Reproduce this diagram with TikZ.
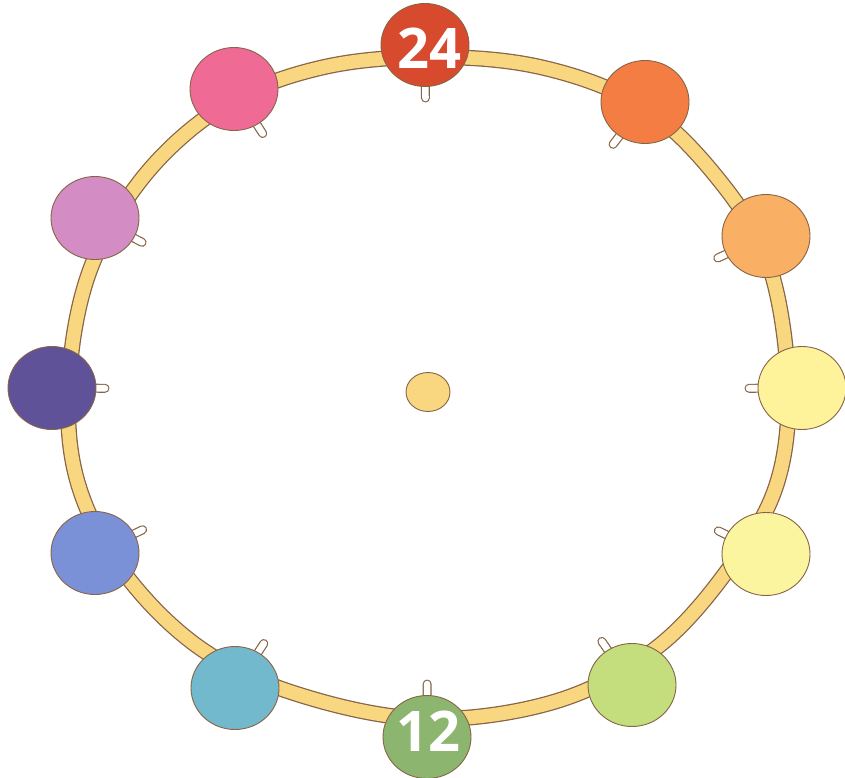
\documentclass[tikz,border=0pt]{standalone}
\usepackage{fontspec}
\newfontfamily\numfont{Open Sans}
\usetikzlibrary{calc,shapes.geometric}
\definecolor{ringfill}{RGB}{249,214,128}
\definecolor{edge}{RGB}{135,100,70}
\definecolor{cA}{RGB}{216,74,46}
\definecolor{cB}{RGB}{244,125,68}
\definecolor{cC}{RGB}{249,175,100}
\definecolor{cD}{RGB}{254,242,155}
\definecolor{cE}{RGB}{252,245,160}
\definecolor{cF}{RGB}{196,222,125}
\definecolor{cG}{RGB}{140,182,112}
\definecolor{cH}{RGB}{115,185,205}
\definecolor{cI}{RGB}{122,145,215}
\definecolor{cJ}{RGB}{95,82,152}
\definecolor{cK}{RGB}{212,140,196}
\definecolor{cL}{RGB}{240,106,150}
\begin{document}
\begin{tikzpicture}[x=1pt,y=-1pt,
  ball/.style={ellipse, draw=edge, line width=0.9pt, minimum width=88pt, minimum height=83pt, inner sep=0pt},
  numtxt/.style={font=\numfont\bfseries\fontsize{56}{56}\selectfont, text=white, inner sep=0pt},
  tab/.style={draw=edge, line width=9pt, line cap=round, postaction={draw=white, line width=6.6pt, line cap=round}},
  band/.style={draw=ringfill, line width=13.5pt, preaction={draw=edge, line width=16pt}}
]
\useasboundingbox (0,0) rectangle (845,778);
\fill[white] (0,0) rectangle (845,778);
\coordinate (ctr) at (428,390);
% ring
\path[band] plot[smooth cycle, tension=0.6] coordinates {
 (428,57) (540,67) (640,105) (715,175) (768,262) (788,380) (778,480)
 (735,560) (660,645) (560,700) (428,719) (300,695) (200,648) (122,570)
 (77,480) (69,380) (90,270) (145,175) (225,105) (320,68)};
% hub
\node[ellipse, draw=edge, line width=0.9pt, fill=ringfill, minimum width=44pt, minimum height=39pt] (hub) at (428,392) {};
% circle centres
\coordinate (pA) at (425,45);
\coordinate (pB) at (645,102);
\coordinate (pC) at (766,236);
\coordinate (pD) at (802,388);
\coordinate (pE) at (766,554);
\coordinate (pF) at (632,685);
\coordinate (pG) at (427,737);
\coordinate (pH) at (235,688);
\coordinate (pI) at (95,553);
\coordinate (pJ) at (52,388);
\coordinate (pK) at (95,218);
\coordinate (pL) at (234,89);
% tabs
\foreach \p in {A,B,C,D,E,F,G,H,I,J,K,L}{
  \draw[tab] ($(p\p)!30pt!(ctr)$) -- ($(p\p)!53pt!(ctr)$);
}
% circles
\node[ball, fill=cA] (nA) at (pA) {};
\node[ball, fill=cB] (nB) at (pB) {};
\node[ball, fill=cC] (nC) at (pC) {};
\node[ball, fill=cD] (nD) at (pD) {};
\node[ball, fill=cE] (nE) at (pE) {};
\node[ball, fill=cF] (nF) at (pF) {};
\node[ball, fill=cG] (nG) at (pG) {};
\node[ball, fill=cH] (nH) at (pH) {};
\node[ball, fill=cI] (nI) at (pI) {};
\node[ball, fill=cJ] (nJ) at (pJ) {};
\node[ball, fill=cK] (nK) at (pK) {};
\node[ball, fill=cL] (nL) at (pL) {};
% labels
\node[numtxt] (t24) at (429,48) {24};
\node[numtxt] (t12) at (428,731) {12};
\end{tikzpicture}
\end{document}
